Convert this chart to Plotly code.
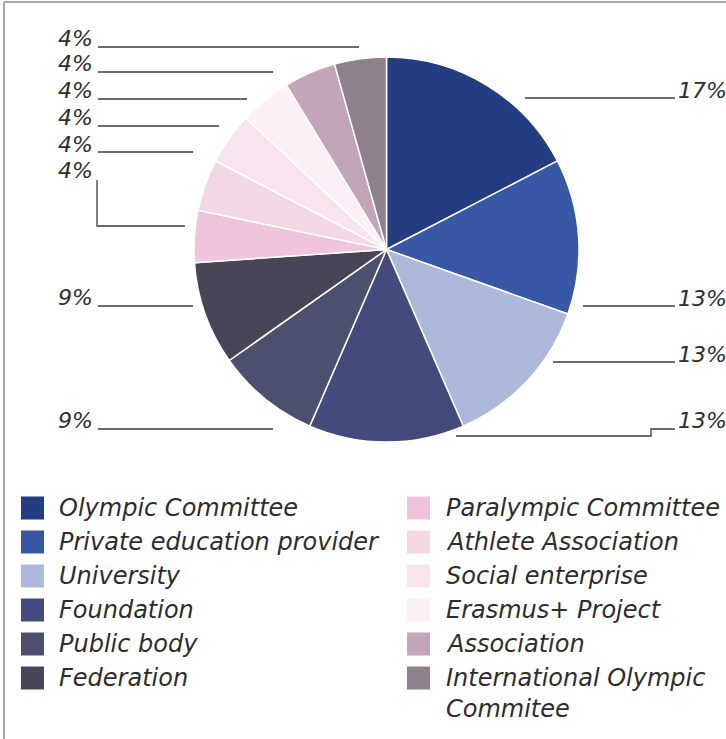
import plotly.graph_objects as go

# ---------------- data ----------------
CATEGORIES = [
    "Olympic Committee", "Private education provider", "University", "Foundation",
    "Public body", "Federation", "Paralympic Committee", "Athlete Association",
    "Social enterprise", "Erasmus+ Project", "Association",
    "International Olympic Commitee",
]
COUNTS = [4, 3, 3, 3, 2, 2, 1, 1, 1, 1, 1, 1]

# ---------------- styles ----------------
COLORS = [
    "#243c82", "#3857a5", "#adb9da", "#434a7c", "#4d4f6e", "#484656",
    "#f0c4dc", "#f4d8e6", "#f8e4ef", "#fcf0f6", "#c2a5b8", "#8e818c",
]
W, H = 726, 739
FONT = "DejaVu Sans"
TXT = "#2d2d2d"
LINE = "#3a3a3a"

# label guide layout (pixels): side, text baseline y, leader polyline
GUIDES = [
    ("r", 98,  [(525, 98), (675, 98)]),
    ("r", 306, [(583, 306), (675, 306)]),
    ("r", 362, [(553, 362), (675, 362)]),
    ("r", 428, [(456, 436), (651, 436), (651, 429), (675, 429)]),
    ("l", 428, [(98, 429), (273, 429)]),
    ("l", 305, [(98, 306), (193, 306)]),
    ("l", 178, [(97, 180), (97, 226), (185, 226)]),
    ("l", 152, [(98, 152), (193, 152)]),
    ("l", 125, [(98, 126), (219, 126)]),
    ("l", 98,  [(98, 99), (247, 99)]),
    ("l", 71,  [(98, 72), (273, 72)]),
    ("l", 46,  [(98, 47), (359, 47)]),
]


def px(x):
    return x / W


def py(y):
    return 1 - y / H


fig = go.Figure(go.Pie(
    labels=CATEGORIES, values=COUNTS, sort=False, direction="clockwise",
    rotation=0, textinfo="none", showlegend=False,
    marker=dict(colors=COLORS, line=dict(color="white", width=1.5)),
    domain=dict(x=[px(194), px(579)], y=[py(442), py(57)]),
))

total = sum(COUNTS)
shapes, annotations = [], []

# frame
shapes.append(dict(type="line", xref="paper", yref="paper", x0=px(4), x1=1,
                   y0=py(2), y1=py(2), line=dict(color="#8a8a8a", width=1.5)))
shapes.append(dict(type="line", xref="paper", yref="paper", x0=px(4), x1=px(4),
                   y0=py(2), y1=0, line=dict(color="#8a8a8a", width=1.5)))

LS = 22
for v, (side, base, pts) in zip(COUNTS, GUIDES):
    pct = f"{round(100 * v / total)}%"
    path = "M " + " L ".join(f"{px(x)},{py(y)}" for x, y in pts)
    shapes.append(dict(type="path", xref="paper", yref="paper", path=path,
                       line=dict(color=LINE, width=1.3)))
    annotations.append(dict(
        text=pct, xref="paper", yref="paper", showarrow=False, borderpad=0,
        x=px(677) if side == "r" else px(94),
        xanchor="left" if side == "r" else "right",
        y=py(base - 0.346 * LS), yanchor="middle",
        font=dict(family=FONT, size=LS, color=TXT, style="italic"),
    ))

# legend (two columns)
FS = 24
for i, (name, col) in enumerate(zip(CATEGORIES, COLORS)):
    c, r = divmod(i, 6)
    cy = 508 + 34 * r
    sx = 21 if c == 0 else 407
    tx = 58 if c == 0 else 445
    shapes.append(dict(type="rect", xref="paper", yref="paper",
                       x0=px(sx), x1=px(sx + 23), y0=py(cy + 11.5), y1=py(cy - 11.5),
                       fillcolor=col, line=dict(width=0)))
    words = name.split(" ")
    lines = [name]
    if c == 1 and len(name) > 22:
        lines = [" ".join(words[:-1]), words[-1]]
    for k, ln in enumerate(lines):
        annotations.append(dict(
            text=ln, xref="paper", yref="paper", showarrow=False, borderpad=0,
            x=px(tx), xanchor="left", y=py(cy + 31 * k), yanchor="middle",
            font=dict(family=FONT, size=FS, color=TXT, style="italic"),
        ))

fig.update_layout(
    width=W, height=H, margin=dict(l=0, r=0, t=0, b=0),
    paper_bgcolor="white", plot_bgcolor="white",
    shapes=shapes, annotations=annotations,
)
fig.write_html("out.html")
